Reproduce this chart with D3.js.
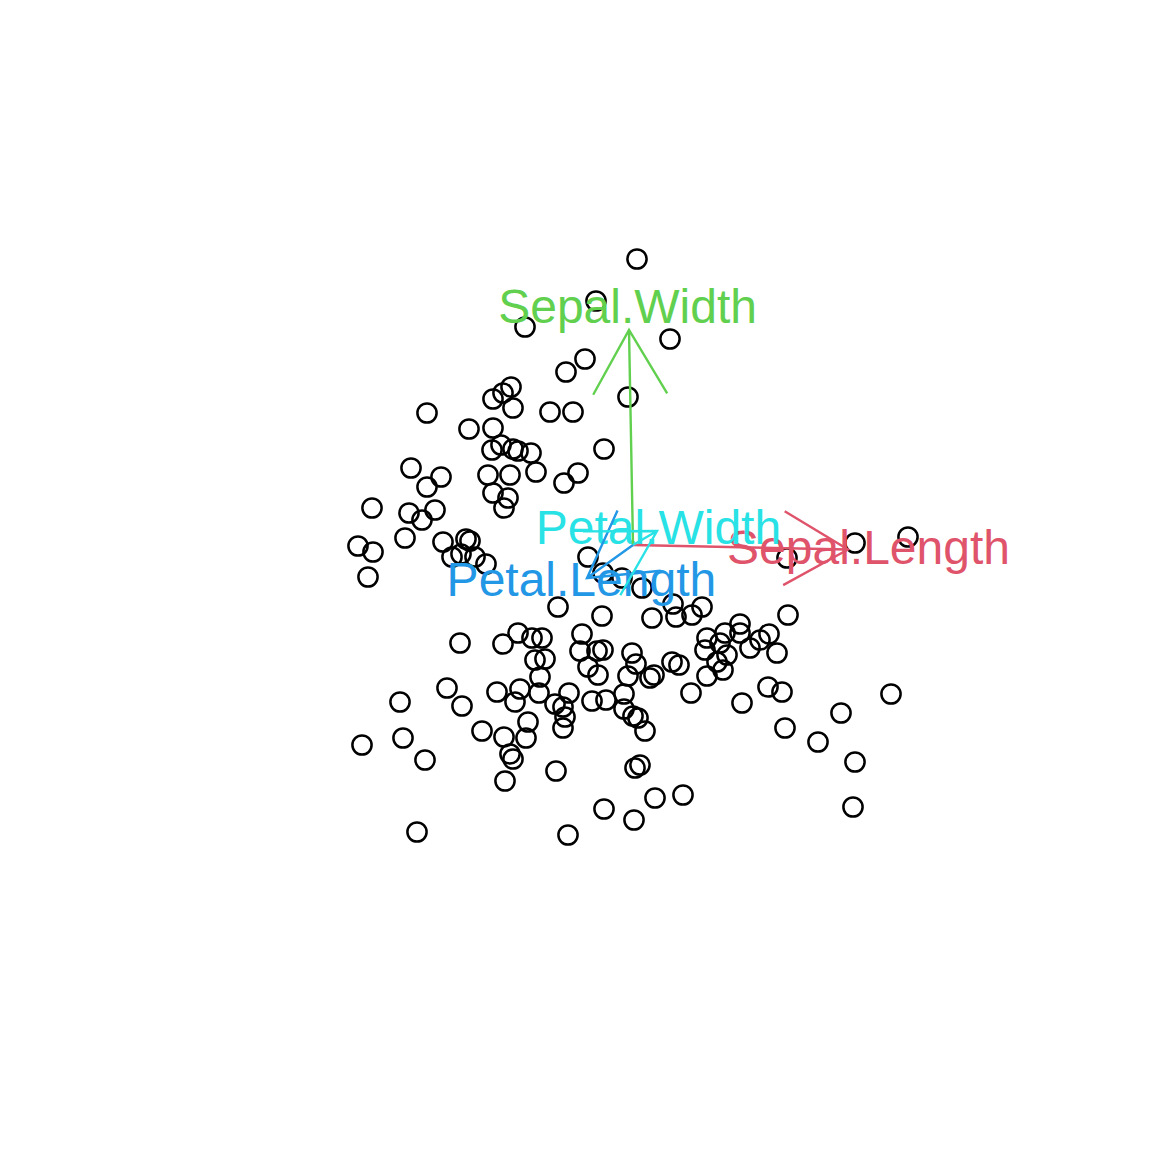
<!DOCTYPE html>
<html><head><meta charset="utf-8">
<script src="https://cdn.jsdelivr.net/npm/d3@7"></script>
<style>html,body{margin:0;padding:0;background:#fff;}</style>
</head><body>
<script>
// Observation scores (first two components)
const scoreX = [0.04,-0.37,-1.08,-0.48,-0.67,0.37,-0.05,-1.22,-1.30,-1.40,-1.20,-2.06,-0.83,-0.60,-1.64,-1.40,-1.32,-1.41,-1.20,-1.15,-1.02,-0.29,-2.22,-1.92,-2.06,-1.45,-1.23,-0.97,-0.69,-0.55,-1.40,-1.25,-1.29,-2.61,-2.24,-1.98,-2.11,-2.28,-2.75,-2.60,-2.65,-1.90,-1.67,-1.63,-1.81,-1.72,-1.58,-1.47,-0.45,-0.30,-0.11,0.09,2.22,2.75,1.54,-0.75,-0.31,0.19,0.40,0.43,0.59,0.69,1.55,-1.15,-1.01,-0.91,-1.30,-1.73,-0.51,-0.53,-0.36,-0.30,-0.98,-0.88,-0.45,-0.35,-0.93,-0.01,0.03,-0.05,0.17,0.21,0.39,0.46,0.74,0.92,1.07,1.07,0.72,0.87,0.94,0.84,0.90,0.74,1.17,1.27,1.36,1.44,1.35,1.49,1.09,0.58,2.58,2.08,1.52,1.85,2.22,2.20,-1.86,-1.36,-1.13,-1.18,-0.94,-0.78,-0.64,-0.70,-0.68,-0.70,-0.41,-0.27,-0.09,-0.09,0.00,0.05,0.12,-2.33,-1.71,-1.05,-1.51,-1.29,-1.07,-2.71,-2.30,-2.08,-1.23,-1.20,-1.28,-0.77,0.02,0.07,0.22,0.50,-0.29,0.01,-2.16,-0.65];
const scoreY = [2.86,2.44,2.18,1.86,1.73,2.06,1.48,1.58,1.52,1.46,1.37,1.32,1.33,1.33,1.16,1.17,1.00,0.95,0.96,0.94,0.92,0.96,0.77,0.68,0.58,0.70,0.70,0.73,0.62,0.72,0.52,0.47,0.37,0.37,0.32,0.35,0.25,0.07,-0.01,-0.07,-0.32,0.03,0.06,0.04,-0.12,-0.09,-0.12,-0.19,-0.12,-0.28,-0.33,-0.43,0.02,0.08,-0.13,-0.62,-0.71,-0.73,-0.59,-0.72,-0.70,-0.62,-0.70,-0.88,-0.93,-0.93,-0.99,-0.98,-0.89,-1.06,-1.06,-1.05,-1.15,-1.14,-1.22,-1.30,-1.32,-1.08,-1.19,-1.31,-1.33,-1.30,-1.17,-1.20,-0.93,-0.88,-0.79,-0.88,-1.05,-0.98,-1.10,-1.17,-1.25,-1.31,-1.03,-0.95,-0.89,-1.08,-1.42,-1.47,-1.58,-1.48,-1.49,-1.68,-1.83,-1.97,-2.17,-2.62,-1.43,-1.47,-1.44,-1.57,-1.48,-1.59,-1.48,-1.62,-1.72,-1.83,-1.56,-1.55,-1.49,-1.64,-1.71,-1.73,-1.86,-1.57,-1.61,-1.77,-1.86,-1.92,-1.93,-2.00,-1.93,-2.15,-2.09,-2.14,-2.36,-2.26,-2.23,-2.20,-2.53,-2.50,-2.64,-2.75,-2.87,-2.90];

// Variable loadings
const varNames = ["Sepal.Length","Sepal.Width","Petal.Length","Petal.Width"];
const loadX = [2.15,-0.04,-0.46,0.24];
const loadY = [-0.045,2.15,-0.33,0.14];
const varColors = ["#DF536B","#61D04F","#2297E6","#28E2E5"];
const labelMult = 1.1;

const W = 1152, H = 1152;
const svg = d3.select("body").append("svg").attr("width", W).attr("height", H)
  .style("font-family", "'Liberation Sans', Arimo, Arial, Helvetica, sans-serif");
svg.append("rect").attr("width", W).attr("height", H).attr("fill", "#fff");

const x = d3.scaleLinear().domain([-4, 4]).range([233, 1033]);
const y = d3.scaleLinear().domain([-4, 4]).range([945, 145]);

const pts = scoreX.map((v, i) => ({x: v, y: scoreY[i]}));
svg.append("g").selectAll("circle").data(pts).join("circle")
  .attr("cx", d => x(d.x)).attr("cy", d => y(d.y)).attr("r", 9.6)
  .attr("fill", "none").attr("stroke", "#000").attr("stroke-width", 2.5);

const vars = varNames.map((n, i) => ({name: n, x: loadX[i], y: loadY[i], col: varColors[i]}));

// labels
svg.append("g").selectAll("text").data(vars).join("text")
  .attr("x", d => x(d.x * labelMult) - 1).attr("y", d => y(d.y * labelMult))
  .attr("dy", "0.3em").attr("text-anchor", "middle")
  .attr("font-size", 48).attr("fill", d => d.col).text(d => d.name);

// arrows
const headLen = 74, headAng = Math.PI / 6;
const ag = svg.append("g").attr("fill", "none").attr("stroke-width", 2.4).attr("stroke-linecap", "butt");
vars.forEach(d => {
  const x0 = x(0), y0 = y(0), x1 = x(d.x), y1 = y(d.y);
  const a = Math.atan2(y0 - y1, x0 - x1);
  const p = d3.path();
  p.moveTo(x0, y0); p.lineTo(x1, y1);
  p.moveTo(x1 + headLen * Math.cos(a + headAng), y1 + headLen * Math.sin(a + headAng));
  p.lineTo(x1, y1);
  p.lineTo(x1 + headLen * Math.cos(a - headAng), y1 + headLen * Math.sin(a - headAng));
  ag.append("path").attr("d", p.toString()).attr("stroke", d.col);
});
</script>
</body></html>
